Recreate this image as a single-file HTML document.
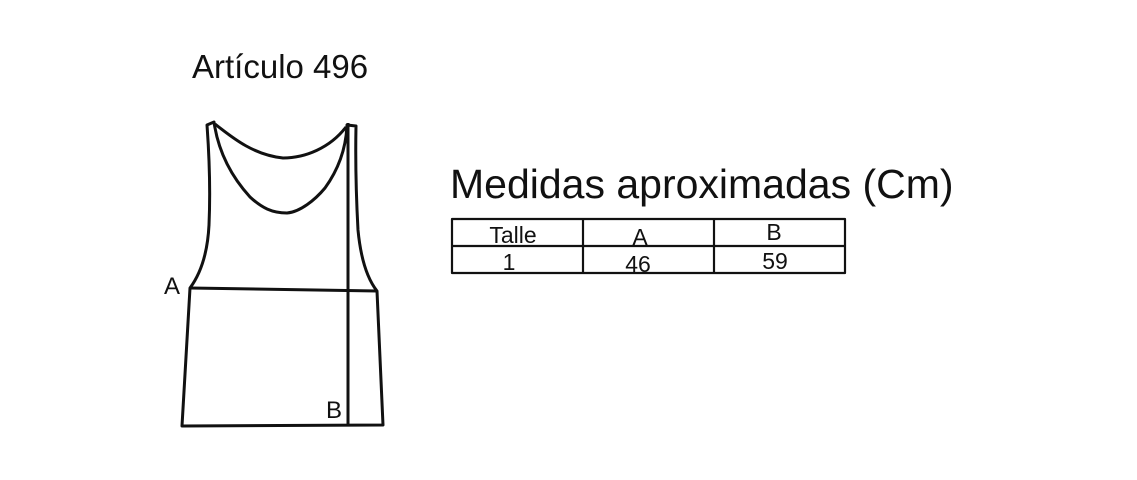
<!DOCTYPE html>
<html><head><style>
body{margin:0;width:1137px;height:480px;background:#fff;overflow:hidden;position:relative;font-family:"Liberation Sans",Arial,sans-serif}
.t{position:absolute;color:#111;white-space:nowrap}
</style></head><body>
<div class="t" style="left:192px;top:48px;font-size:33px">Artículo 496</div>
<div class="t" style="left:450px;top:161px;font-size:41px">Medidas aproximadas (Cm)</div>
<svg width="1137" height="480" style="position:absolute;left:0;top:0" fill="none" stroke="#111" stroke-width="3" stroke-linejoin="round">
<path d="M207,125 L214,122 C218,150 230,175 250,197 C262,208 272,213 287,213 C300,212 315,200 325,188 C338,170 346,150 347,125 L356,126 Q355,175 358,230 Q362,272 377,291 L383,425 L182,426 L190,288 Q207,265 209,225 Q211,180 207,125 Z"/>
<path d="M215,124 C235,140 255,155 283,158 C305,158 330,148 346,127"/>
<path d="M190,288 L377,291"/>
<path d="M348,123 L348,426"/>
<g stroke-width="2.2">
<rect x="452" y="219" width="393" height="54"/>
<line x1="452" y1="246" x2="845" y2="246"/>
<line x1="583" y1="219" x2="583" y2="273"/>
<line x1="714" y1="219" x2="714" y2="273"/>
</g>
<g fill="#111" stroke="none" font-family="Liberation Sans, Arial, sans-serif">
<text x="164" y="294" font-size="24">A</text>
<text x="326" y="418" font-size="24">B</text>
<text x="513" y="243" font-size="23" text-anchor="middle">Talle</text>
<text x="640" y="245" font-size="23" text-anchor="middle">A</text>
<text x="774" y="240" font-size="23" text-anchor="middle">B</text>
<text x="509" y="270" font-size="23" text-anchor="middle">1</text>
<text x="638" y="272" font-size="23" text-anchor="middle">46</text>
<text x="775" y="269" font-size="23" text-anchor="middle">59</text>
</g>
</svg>
</body></html>
